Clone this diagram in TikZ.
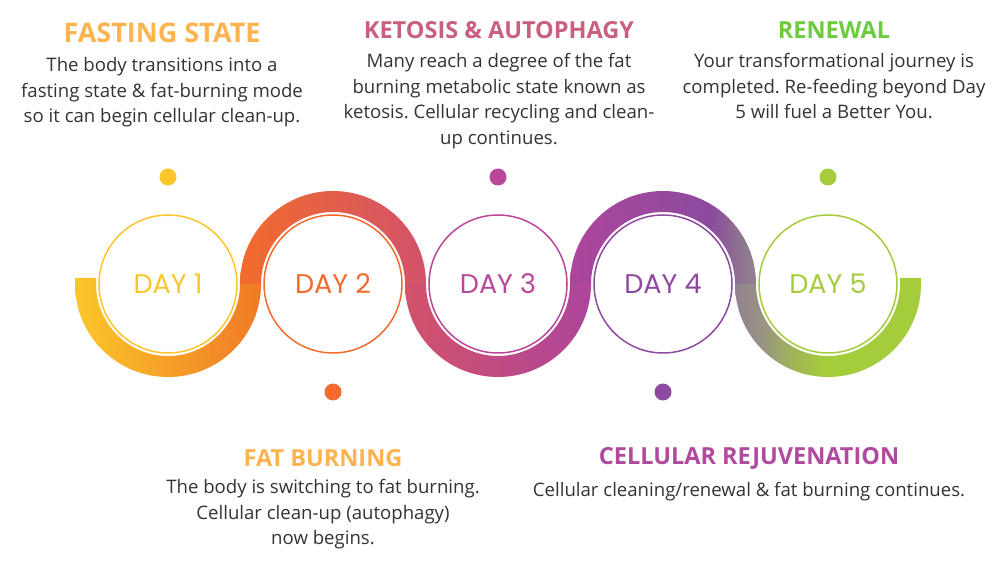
\documentclass[tikz,border=0pt]{standalone}
\usepackage{fontspec}
\setmainfont{Open Sans}
\newfontfamily\dayfont{Poppins}
\usetikzlibrary{positioning}
\frenchspacing
\definecolor{dayone}{HTML}{FCC62A}
\definecolor{daytwo}{HTML}{F26B2C}
\definecolor{daythree}{HTML}{B9479A}
\definecolor{dayfour}{HTML}{8E4AA0}
\definecolor{dayfive}{HTML}{A5CD3B}
\definecolor{bandorange}{HTML}{F07A25}
\definecolor{bandred}{HTML}{D2526A}
\definecolor{bandmagenta}{HTML}{AE459C}
\definecolor{bandpurple}{HTML}{8B4A9E}
\definecolor{bandmauve}{HTML}{8E7590}
\definecolor{bandgray}{HTML}{928290}
\definecolor{bandolive}{HTML}{989284}
\definecolor{bandlime}{HTML}{A0B458}
\definecolor{titleorange}{HTML}{FDB44E}
\definecolor{titlepink}{HTML}{C8607E}
\definecolor{titlegreen}{HTML}{6CCB3F}
\definecolor{titlepurple}{HTML}{B04A9E}
\definecolor{textgray}{HTML}{333333}
\pgfdeclarehorizontalshading{bandfour}{100bp}{color(0bp)=(bandmagenta); color(25bp)=(bandmagenta);
  color(62.6bp)=(bandpurple); color(70.7bp)=(bandmauve); color(75bp)=(bandgray); color(100bp)=(bandgray)}
\pgfdeclarehorizontalshading{bandfive}{100bp}{color(0bp)=(bandgray); color(25bp)=(bandgray);
  color(31.7bp)=(bandolive); color(40.6bp)=(bandlime); color(49bp)=(dayfive); color(100bp)=(dayfive)}

\begin{document}
\begin{tikzpicture}[
    x=1pt, y=1pt,
    node distance=27pt,
    day/.style={circle, draw=#1, text=#1, fill=white, line width=1.5pt, minimum size=138pt, inner sep=0pt, outer sep=0pt, font=\dayfont\fontsize{27}{30}\selectfont},
    dot/.style={circle, fill=#1, minimum size=17pt, inner sep=0pt, outer sep=0pt},
    title/.style={text=#1, inner sep=0pt, font=\bfseries\fontsize{23.5}{26}\selectfont},
    body/.style={text=textgray, align=center, inner sep=0pt, font=\fontsize{18.6}{25.5}\selectfont}
]
\useasboundingbox (0,-280) rectangle (1000,284);

% Days
\node[day=dayone] (day1) at (168,0) {DAY 1};
\node[day=daytwo, right=of day1] (day2) {DAY 2};
\node[day=daythree, right=of day2] (day3) {DAY 3};
\node[day=dayfour, right=of day3] (day4) {DAY 4};
\node[day=dayfive, right=of day4] (day5) {DAY 5};

% Dots
\node[dot=dayone, above=29.5pt of day1] (dot1) {};
\node[dot=daytwo, below=30.5pt of day2] (dot2) {};
\node[dot=daythree, above=29.5pt of day3] (dot3) {};
\node[dot=dayfour, below=30.5pt of day4] (dot4) {};
\node[dot=dayfive, above=29.5pt of day5] (dot5) {};

% Band
\shade[left color=dayone, right color=bandorange] ([xshift=-93pt,yshift=6pt]day1.center) -- ++(0,-6pt)
    arc[start angle=180, end angle=360, radius=93pt] -- ++(-21pt,0)
    arc[start angle=360, end angle=180, radius=72pt] -- ++(0,6pt) -- cycle;
\shade[left color=daytwo, right color=bandred] ([xshift=-93pt]day2.center)
    arc[start angle=180, end angle=0, radius=93pt] -- ++(-21pt,0)
    arc[start angle=0, end angle=180, radius=72pt] -- cycle;
\shade[left color=bandred, right color=bandmagenta] ([xshift=-93pt]day3.center)
    arc[start angle=180, end angle=360, radius=93pt] -- ++(-21pt,0)
    arc[start angle=360, end angle=180, radius=72pt] -- cycle;
\shade[shading=bandfour] ([xshift=-93pt]day4.center)
    arc[start angle=180, end angle=0, radius=93pt] -- ++(-21pt,0)
    arc[start angle=0, end angle=180, radius=72pt] -- cycle;
\shade[shading=bandfive] ([xshift=-93pt]day5.center)
    arc[start angle=180, end angle=360, radius=93pt] -- ++(0,6pt) -- ++(-21pt,0) -- ++(0,-6pt)
    arc[start angle=360, end angle=180, radius=72pt] -- cycle;

% Texts
\node[title=titleorange, font=\bfseries\fontsize{27}{30}\selectfont] (fasting) at (162,251) {FASTING STATE};
\node[body, below=14.5pt of fasting] (fastingtxt) {The body transitions into a\\fasting state \& fat-burning mode\\so it can begin cellular clean-up.};

\node[title=titlepink] (ketosis) at (499,254) {KETOSIS \& AUTOPHAGY};
\node[body, below=14.5pt of ketosis] (ketosistxt) {Many reach a degree of the fat\\burning metabolic state known as\\ketosis. Cellular recycling and clean-\\up continues.};

\node[title=titlegreen] (renewal) at (834,254) {RENEWAL};
\node[body, below=14.5pt of renewal] (renewaltxt) {Your transformational journey is\\completed. Re-feeding beyond Day\\5 will fuel a Better You.};

\node[title=titleorange] (fatburn) at (323,-174) {FAT BURNING};
\node[body, below=12.5pt of fatburn] (fatburntxt) {The body is switching to fat burning.\\Cellular clean-up (autophagy)\\now begins.};

\node[title=titlepurple] (rejuv) at (749,-174) {CELLULAR REJUVENATION};
\node[body, below=12.5pt of rejuv] (rejuvtxt) {Cellular cleaning/renewal \& fat burning continues.};

\end{tikzpicture}
\end{document}
